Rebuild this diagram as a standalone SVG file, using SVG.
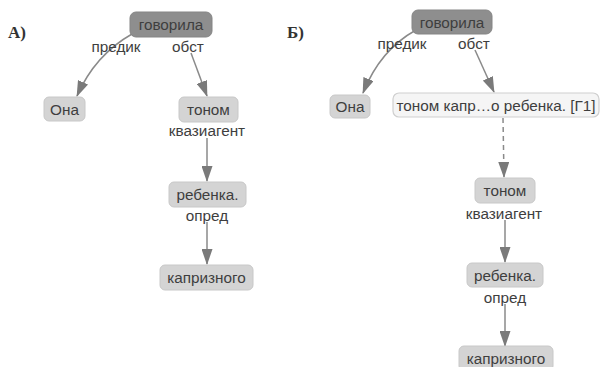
<svg xmlns="http://www.w3.org/2000/svg" width="601" height="367" viewBox="0 0 601 367">
<style>
text{font-family:"Liberation Sans",Arial,sans-serif;font-size:15.3px;fill:#3e3e3e;text-anchor:middle}
.n{fill:#d4d4d4;stroke:#c8c8c8;stroke-width:1}
.root{fill:#8e8e8e;stroke:#858585;stroke-width:1}
.grp{fill:#f5f5f5;stroke:#cfcfcf;stroke-width:1.2}
.e{fill:none;stroke:#8a8a8a;stroke-width:1.5}
.d{stroke-dasharray:5,4}
.lbl{font-family:"Liberation Serif","Times New Roman",serif;font-size:17px;font-weight:bold;fill:#333;text-anchor:start}
</style>
<defs>
<marker id="ah" viewBox="0 0 16 11" refX="15" refY="5.5" markerWidth="16" markerHeight="11" markerUnits="userSpaceOnUse" orient="auto">
<path d="M0,0 L16,5.5 L0,11 z" fill="#7a7a7a"/>
</marker>
</defs>
<text class="lbl" x="8" y="38">А)</text>
<text class="lbl" x="287" y="38">Б)</text>
<g id="connectors">
<path class="e" marker-end="url(#ah)" d="M132,34 Q95,55 77,96"/>
<path class="e" marker-end="url(#ah)" d="M191,53 L207,96"/>
<path class="e" marker-end="url(#ah)" d="M207,138 L207,181"/>
<path class="e" marker-end="url(#ah)" d="M207,222 L207,264"/>
<path class="e" marker-end="url(#ah)" d="M416,30 Q380,50 363,93"/>
<path class="e" marker-end="url(#ah)" d="M475,50 L494,92"/>
<path class="e d" marker-end="url(#ah)" d="M503,118 L504,177"/>
<path class="e" marker-end="url(#ah)" d="M505,220 L505,262"/>
<path class="e" marker-end="url(#ah)" d="M505,304 L505,346"/>
</g>
<g id="edge-labels">
<text x="116" y="52">предик</text>
<text x="188" y="52">обст</text>
<text x="207" y="136">квазиагент</text>
<text x="207" y="221">опред</text>
<text x="402" y="49">предик</text>
<text x="474" y="49">обст</text>
<text x="504" y="219">квазиагент</text>
<text x="505" y="303">опред</text>
</g>
<g id="a-govorila"><rect class="root" x="130" y="12" width="82" height="25" rx="6"/><text x="171" y="30">говорила</text></g>
<g id="a-ona"><rect class="n" x="44" y="97" width="41" height="24" rx="5"/><text x="64.5" y="114.5">Она</text></g>
<g id="a-tonom"><rect class="n" x="179" y="97" width="59" height="25" rx="5"/><text x="208.5" y="115">тоном</text></g>
<g id="a-rebenka"><rect class="n" x="169" y="182" width="77" height="25" rx="5"/><text x="207.5" y="200">ребенка.</text></g>
<g id="a-kaprizn"><rect class="n" x="160" y="265" width="93" height="25" rx="5"/><text x="206.5" y="283">капризного</text></g>
<g id="b-govorila"><rect class="root" x="412" y="10" width="80" height="24" rx="6"/><text x="452" y="27.5">говорила</text></g>
<g id="b-ona"><rect class="n" x="330" y="95" width="40" height="23" rx="5"/><text x="350" y="112">Она</text></g>
<g id="b-group"><rect class="grp" x="393" y="93" width="206" height="24" rx="6"/><text x="496" y="110.5">тоном капр…о ребенка. [Г1]</text></g>
<g id="b-tonom"><rect class="n" x="475" y="178" width="60" height="25" rx="5"/><text x="505" y="196">тоном</text></g>
<g id="b-rebenka"><rect class="n" x="467" y="263" width="76" height="24" rx="5"/><text x="505" y="280.5">ребенка.</text></g>
<g id="b-kaprizn"><rect class="n" x="459" y="346" width="94" height="25" rx="5"/><text x="506" y="363.5">капризного</text></g>
</svg>
